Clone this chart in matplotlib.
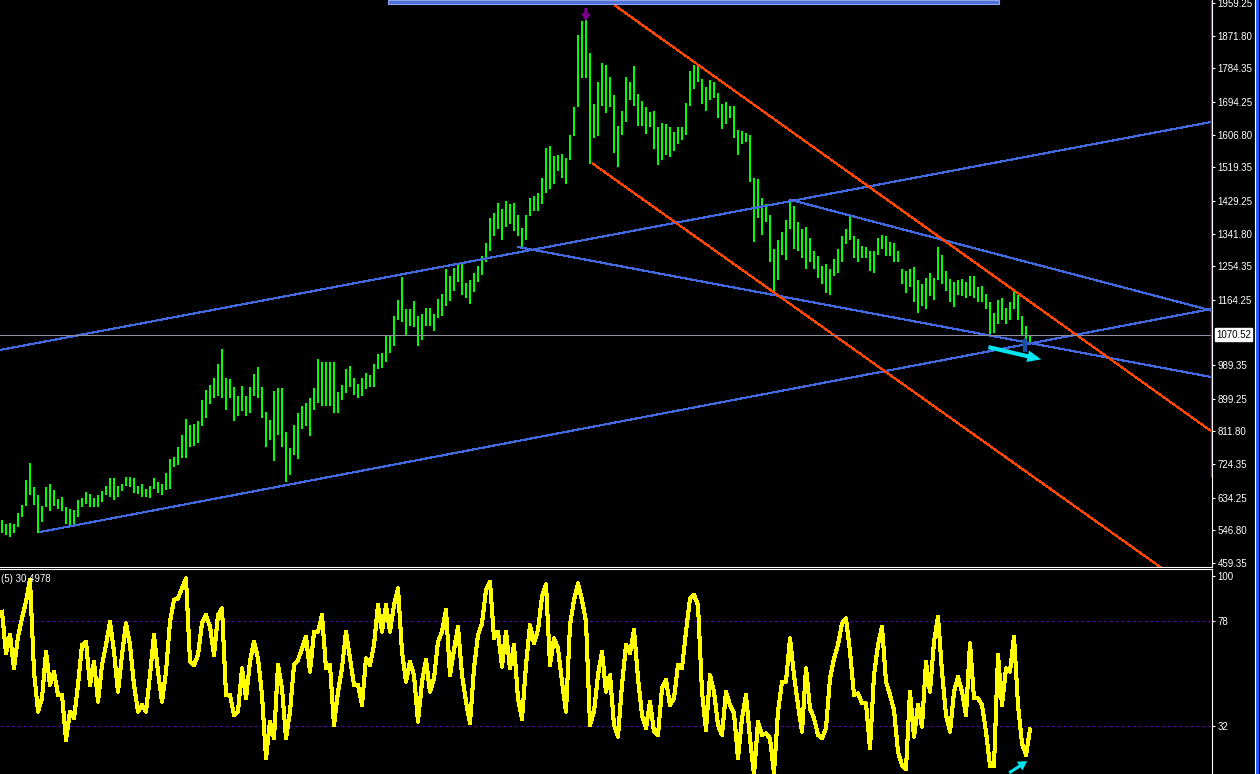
import matplotlib
matplotlib.use("Agg")
import matplotlib.pyplot as plt
import matplotlib.transforms as mtransforms
from matplotlib.patches import Rectangle, FancyArrowPatch
from matplotlib.lines import Line2D

plt.rcParams['font.family'] = ['Liberation Sans', 'DejaVu Sans']

# ---------------- data (weekly bars: high / low) ----------------
bar_high = [
    574.0, 564.2, 567.2, 564.2, 593.5, 614.9, 681.2, 727.9, 663.6, 642.2,
    613.0, 663.6, 671.4, 653.9, 629.5, 637.3, 608.1, 603.2, 601.3, 627.6,
    634.4, 649.0, 645.1, 632.4, 642.2, 651.9, 666.5, 686.0, 686.0, 666.5,
    671.4, 690.9, 690.9, 686.0, 666.5, 671.4, 656.8, 666.5, 686.0, 676.3,
    671.4, 700.6, 737.7, 744.5, 768.8, 803.0, 844.8, 829.3, 832.2, 839.0,
    895.5, 922.8, 936.4, 954.0, 993.0, 1031.9, 954.0, 951.1, 929.6, 905.3,
    932.5, 905.3, 929.6, 965.7, 985.2, 929.6, 864.3, 841.9, 919.9, 926.7,
    926.7, 809.8, 766.9, 829.3, 861.4, 880.9, 887.7, 900.4, 926.7, 1004.6,
    997.8, 997.8, 997.8, 997.8, 917.0, 936.4, 978.3, 988.1, 954.0, 939.4,
    954.0, 968.6, 963.7, 993.0, 1020.2, 1022.2, 1070.9, 1066.0, 1119.6, 1163.5,
    1224.8, 1139.1, 1139.1, 1160.5, 1121.6, 1127.4, 1141.1, 1141.1, 1127.4, 1166.4,
    1180.0, 1246.3, 1226.8, 1248.2, 1263.8, 1263.8, 1209.3, 1217.1, 1236.5, 1256.0,
    1280.4, 1316.4, 1382.7, 1397.3, 1423.6, 1407.0, 1429.5, 1421.7, 1423.6, 1392.4,
    1355.4, 1390.5, 1436.3, 1441.2, 1450.9, 1489.9, 1569.8, 1575.6, 1550.3, 1553.2,
    1556.1, 1543.5, 1606.8, 1679.9, 1874.7, 1910.8, 1923.5, 1826.0, 1689.6, 1748.1,
    1799.7, 1793.9, 1760.7, 1712.0, 1631.1, 1670.1, 1760.7, 1748.1, 1790.0, 1715.9,
    1696.4, 1679.9, 1667.2, 1670.1, 1626.3, 1638.0, 1634.1, 1626.3, 1614.6, 1626.3,
    1626.3, 1692.5, 1777.3, 1793.9, 1791.9, 1754.9, 1735.4, 1752.9, 1748.1, 1718.8,
    1689.6, 1694.5, 1684.7, 1682.8, 1618.5, 1616.5, 1611.7, 1604.8, 1491.8, 1487.9,
    1436.3, 1421.7, 1392.4, 1299.9, 1324.2, 1345.7, 1377.8, 1433.4, 1416.8, 1372.9,
    1353.5, 1358.3, 1329.1, 1295.0, 1280.4, 1256.0, 1260.9, 1246.3, 1273.6, 1299.9,
    1334.0, 1353.5, 1387.6, 1334.0, 1326.2, 1309.6, 1304.7, 1295.0, 1295.0, 1329.1,
    1338.8, 1334.0, 1319.4, 1316.4, 1295.0, 1246.3, 1241.4, 1246.3, 1251.2, 1217.1,
    1207.3, 1221.9, 1236.5, 1221.9, 1304.7, 1285.3, 1241.4, 1219.0, 1212.2, 1217.1,
    1219.0, 1212.2, 1226.8, 1226.8, 1197.6, 1202.4, 1180.0, 1158.6, 1129.4, 1163.5,
    1168.3, 1141.1, 1158.6, 1192.7, 1178.1, 1119.6, 1095.3, 1070.9,
]
bar_low = [
    539.9, 535.0, 530.1, 539.9, 554.5, 583.7, 613.0, 642.2, 614.9, 539.9,
    569.1, 608.1, 598.3, 613.0, 603.2, 598.3, 564.2, 556.4, 564.2, 583.7,
    608.1, 617.8, 608.1, 608.1, 608.1, 622.7, 642.2, 637.3, 627.6, 637.3,
    651.9, 665.6, 661.7, 647.1, 644.1, 637.3, 637.3, 634.4, 656.8, 647.1,
    640.2, 653.9, 656.8, 715.3, 722.1, 741.6, 739.6, 770.8, 773.7, 780.5,
    827.3, 846.8, 885.8, 900.4, 905.3, 900.4, 868.2, 900.4, 839.0, 851.7,
    866.3, 851.7, 861.4, 905.3, 900.4, 846.8, 768.8, 788.3, 731.8, 803.0,
    768.8, 676.3, 695.8, 749.4, 737.7, 817.6, 827.3, 798.1, 868.2, 887.7,
    880.9, 880.9, 880.9, 861.4, 861.4, 895.5, 915.0, 929.6, 910.1, 900.4,
    905.3, 924.7, 929.6, 929.6, 978.3, 981.3, 997.8, 1022.2, 1041.7, 1109.9,
    1105.0, 1070.9, 1095.3, 1090.4, 1041.7, 1056.3, 1095.3, 1095.3, 1080.6, 1114.7,
    1119.6, 1148.8, 1160.5, 1187.8, 1212.2, 1178.1, 1168.3, 1153.7, 1185.9, 1212.2,
    1231.7, 1265.8, 1295.0, 1334.0, 1353.5, 1324.2, 1358.3, 1368.1, 1348.6, 1334.0,
    1304.7, 1324.2, 1387.6, 1402.2, 1402.2, 1421.7, 1450.9, 1460.6, 1475.3, 1509.4,
    1491.8, 1475.3, 1538.6, 1601.9, 1679.9, 1757.8, 1757.8, 1528.8, 1597.0, 1601.9,
    1684.7, 1665.3, 1679.9, 1558.1, 1519.1, 1606.8, 1640.9, 1699.4, 1684.7, 1631.1,
    1631.1, 1608.7, 1626.3, 1567.8, 1524.0, 1538.6, 1553.2, 1546.4, 1562.9, 1582.4,
    1592.2, 1606.8, 1684.7, 1728.6, 1748.1, 1689.6, 1670.1, 1699.4, 1704.2, 1650.6,
    1621.4, 1636.0, 1650.6, 1597.0, 1553.2, 1582.4, 1587.3, 1480.1, 1319.4, 1382.7,
    1338.8, 1372.9, 1265.8, 1178.1, 1217.1, 1285.3, 1270.6, 1353.5, 1299.9, 1295.0,
    1275.5, 1246.3, 1265.8, 1246.3, 1221.9, 1207.3, 1182.9, 1178.1, 1226.8, 1236.5,
    1265.8, 1314.5, 1324.2, 1275.5, 1265.8, 1275.5, 1275.5, 1241.4, 1236.5, 1285.3,
    1299.9, 1280.4, 1280.4, 1265.8, 1265.8, 1207.3, 1182.9, 1197.6, 1158.6, 1129.4,
    1148.8, 1139.1, 1173.2, 1163.5, 1217.1, 1207.3, 1187.8, 1158.6, 1144.0, 1178.1,
    1173.2, 1168.3, 1173.2, 1168.3, 1158.6, 1158.6, 1139.1, 1072.8, 1075.8, 1100.1,
    1109.9, 1100.1, 1109.9, 1139.1, 1109.9, 1070.9, 1051.4, 1046.5,
]
# oscillator (5) values, one per bar
osc_values = [
    82.1, 63.8, 71.9, 57.3, 71.1, 79.2, 86.5, 96.0, 55.8, 38.3,
    44.1, 64.6, 50.0, 55.8, 45.6, 45.6, 25.9, 38.3, 35.4, 50.0,
    67.5, 68.9, 50.0, 60.2, 42.7, 58.7, 67.5, 77.7, 64.6, 47.0,
    63.1, 77.0, 67.5, 50.0, 38.3, 41.2, 38.3, 54.3, 71.9, 55.8,
    42.7, 55.8, 77.7, 87.2, 87.9, 92.3, 96.7, 60.2, 58.7, 63.1,
    77.0, 80.6, 75.5, 63.1, 80.6, 83.5, 45.6, 45.6, 36.8, 38.3,
    57.3, 44.1, 60.2, 68.9, 61.6, 45.6, 17.8, 33.9, 26.6, 58.7,
    48.5, 26.6, 38.3, 58.7, 60.9, 66.0, 71.1, 55.8, 73.3, 73.3,
    80.6, 57.3, 58.7, 32.4, 47.0, 57.3, 73.3, 61.6, 50.0, 50.0,
    41.2, 61.6, 58.7, 67.5, 85.0, 73.3, 85.0, 73.3, 85.0, 92.3,
    64.6, 51.4, 60.2, 54.3, 33.9, 51.4, 60.9, 47.0, 52.9, 68.9,
    73.3, 82.8, 54.3, 65.3, 75.5, 54.3, 42.7, 33.2, 57.3, 71.9,
    77.0, 91.6, 95.2, 70.4, 73.3, 58.0, 73.3, 57.3, 67.5, 44.1,
    35.1, 58.7, 76.2, 68.2, 74.1, 88.7, 94.1, 58.7, 70.4, 66.0,
    51.4, 38.3, 76.2, 87.2, 94.5, 87.2, 77.7, 32.4, 38.3, 54.3,
    64.6, 47.0, 54.3, 32.4, 27.3, 50.0, 67.5, 63.8, 74.1, 52.9,
    36.8, 31.0, 42.7, 29.5, 28.1, 48.5, 52.2, 41.2, 44.1, 58.7,
    57.3, 73.3, 87.9, 89.4, 85.0, 47.0, 30.2, 54.3, 47.0, 32.4,
    28.1, 47.0, 41.2, 37.5, 17.8, 35.4, 45.6, 26.6, 10.5, 33.9,
    28.1, 28.8, 26.6, 11.3, 38.3, 51.4, 51.4, 70.4, 54.3, 41.2,
    29.5, 57.3, 39.7, 35.4, 28.1, 26.6, 31.0, 52.9, 61.6, 67.5,
    77.0, 79.2, 64.6, 45.6, 46.3, 41.9, 41.9, 22.2, 54.3, 67.5,
    75.5, 51.4, 45.6, 39.0, 20.7, 14.9, 13.2, 47.0, 27.3, 41.2,
    31.7, 60.2, 47.0, 68.9, 79.9, 55.8, 36.8, 29.5, 47.0, 53.6,
    47.0, 36.8, 68.2, 44.1, 44.1, 41.2, 29.5, 14.5, 14.5, 63.1,
    41.2, 57.3, 55.8, 71.1, 41.2, 24.4, 19.3, 30.4978,
]
price_ticks = [1959.25, 1871.80, 1784.35, 1694.25, 1606.80, 1519.35, 1429.25,
               1341.80, 1254.35, 1164.25, 989.35, 899.25, 811.80, 724.35,
               634.25, 546.80, 459.35]
current_price = 1070.52
osc_ticks = [97.7, 78, 32]
osc_tick_labels = ['100', '78', '32']
osc_levels = [78, 32]
osc_title = '(5) 30.4978'

# drawn objects (bar index, price)
blue_lines = [((-0.5, 1029.8), (302.5, 1641.0)),
              ((9.5, 542.3), (302.5, 1140.0)),
              ((129.0, 1305.7), (302.5, 957.0)),
              ((197.25, 1431.6), (302.5, 1135.0))]
red_lines = [((153.25, 1952.6), (302.5, 811.0)),
             ((147.7, 1528.8), (302.5, 350.0))]
top_band = (96.5, 249.25)
purple_vline = (302.3, 689.6)
peak_arrow = ((146.0, 1945.9), (146.0, 1911.0))
last_arrow = ((255.75, 1024.4), (255.75, 1064.6))
cyan_arrow = ((246.6, 1037.5), (259.8, 1004.6))
osc_arrow = ((251.8, 11.5), (256.3, 16.6))

# ---------------- figure ----------------
W, H = 1260, 774
fig = plt.figure(figsize=(W / 100, H / 100), dpi=100, facecolor='black')
ax = fig.add_axes([0, 207 / H, 1212 / W, 567 / H], facecolor='black')
ax2 = fig.add_axes([0, 0, 1212 / W, 205 / H], facecolor='black')

idx = list(range(len(bar_high)))
ax.vlines(idx, bar_low, bar_high, colors='#00ff00', linewidth=1.44,
          antialiased=False, zorder=2)

ax.set_xlim(-0.5, 302.5)
ax.set_ylim(448.54, 1967.29)

for (x0, y0), (x1, y1) in blue_lines:
    ax.plot([x0, x1], [y0, y1], color='#4169e1', lw=0.8, antialiased=False, zorder=3)
for (x0, y0), (x1, y1) in red_lines:
    ax.plot([x0, x1], [y0, y1], color='#ff4500', lw=0.8, antialiased=False, zorder=3)
ax.axhline(current_price, color='#8f8f9f', lw=0.75, zorder=3)

ax.vlines(purple_vline[0], purple_vline[1], 1967.29, colors='#8b2a8b', lw=1.0, zorder=3)

ax.add_patch(Rectangle((top_band[0], 1956.6), top_band[1] - top_band[0], 12,
                       facecolor='#4f6fd6', edgecolor='#8fa6f2', lw=0.8,
                       zorder=4, clip_on=True))

# arrows
ax.add_patch(FancyArrowPatch(peak_arrow[0], peak_arrow[1],
                             arrowstyle='simple,head_length=0.55,head_width=0.75,tail_width=0.24',
                             mutation_scale=10, color='#78008c', lw=0,
                             shrinkA=0, shrinkB=0, zorder=5))
ax.add_patch(FancyArrowPatch(last_arrow[0], last_arrow[1],
                             arrowstyle='simple,head_length=0.45,head_width=0.6,tail_width=0.3',
                             mutation_scale=10, color='#1a4fa8', lw=0,
                             shrinkA=0, shrinkB=0, zorder=5))
ax.add_patch(FancyArrowPatch(cyan_arrow[0], cyan_arrow[1],
                             arrowstyle='simple,head_length=1.0,head_width=0.85,tail_width=0.3',
                             mutation_scale=10, color='#00e5f0', lw=0,
                             shrinkA=0, shrinkB=0, zorder=6))

for s in ['top', 'left']:
    ax.spines[s].set_visible(False)
for s in ['bottom', 'right']:
    ax.spines[s].set_color('white')
    ax.spines[s].set_linewidth(0.8)
ax.set_xticks([])
ax.yaxis.tick_right()
ax.set_yticks(price_ticks)
ax.set_yticklabels(['%.2f' % v for v in price_ticks])
ax.tick_params(axis='y', colors='white', length=2, width=0.8, pad=2, labelsize=7)

blend = mtransforms.blended_transform_factory(ax.transAxes, ax.transData)
ax.text(1.0035, current_price, '%.2f' % current_price, transform=blend,
        ha='left', va='center', color='black', fontsize=7,
        bbox=dict(facecolor='white', edgecolor='white', pad=1.0), zorder=10,
        clip_on=False)

# ---------------- oscillator ----------------
ax2.plot(idx, osc_values, color='#ffff00', lw=2.2, antialiased=False, zorder=3)
for lv in osc_levels:
    ax2.axhline(lv, color='#4b0a96', lw=0.8, dashes=(3, 2.2), zorder=2)
ax2.set_xlim(-0.5, 302.5)
ax2.set_ylim(10.97, 100.78)
ax2.add_patch(FancyArrowPatch(osc_arrow[0], osc_arrow[1],
                              arrowstyle='simple,head_length=0.65,head_width=0.75,tail_width=0.22',
                              mutation_scale=10, color='#00e5f0', lw=0,
                              shrinkA=0, shrinkB=0, zorder=6, clip_on=False))
for s in ['bottom', 'left']:
    ax2.spines[s].set_visible(False)
for s in ['top', 'right']:
    ax2.spines[s].set_color('white')
    ax2.spines[s].set_linewidth(0.8)
ax2.set_xticks([])
ax2.yaxis.tick_right()
ax2.set_yticks(osc_ticks)
ax2.set_yticklabels(osc_tick_labels)
ax2.tick_params(axis='y', colors='white', length=2, width=0.8, pad=2, labelsize=7)
fig.text(1 / W, 1 - 578.5 / H, osc_title, color='white', fontsize=7,
         ha='left', va='center')

# right window border
fig.add_artist(Line2D([1254.5 / W] * 2, [0, 1], color='white', lw=0.8,
                      transform=fig.transFigure))
fig.add_artist(Rectangle((1255.5 / W, 0), 3.5 / W, 1, transform=fig.transFigure,
                         facecolor='#1e5cff', edgecolor='none'))

fig.savefig('out.png', dpi=100, facecolor='black')
